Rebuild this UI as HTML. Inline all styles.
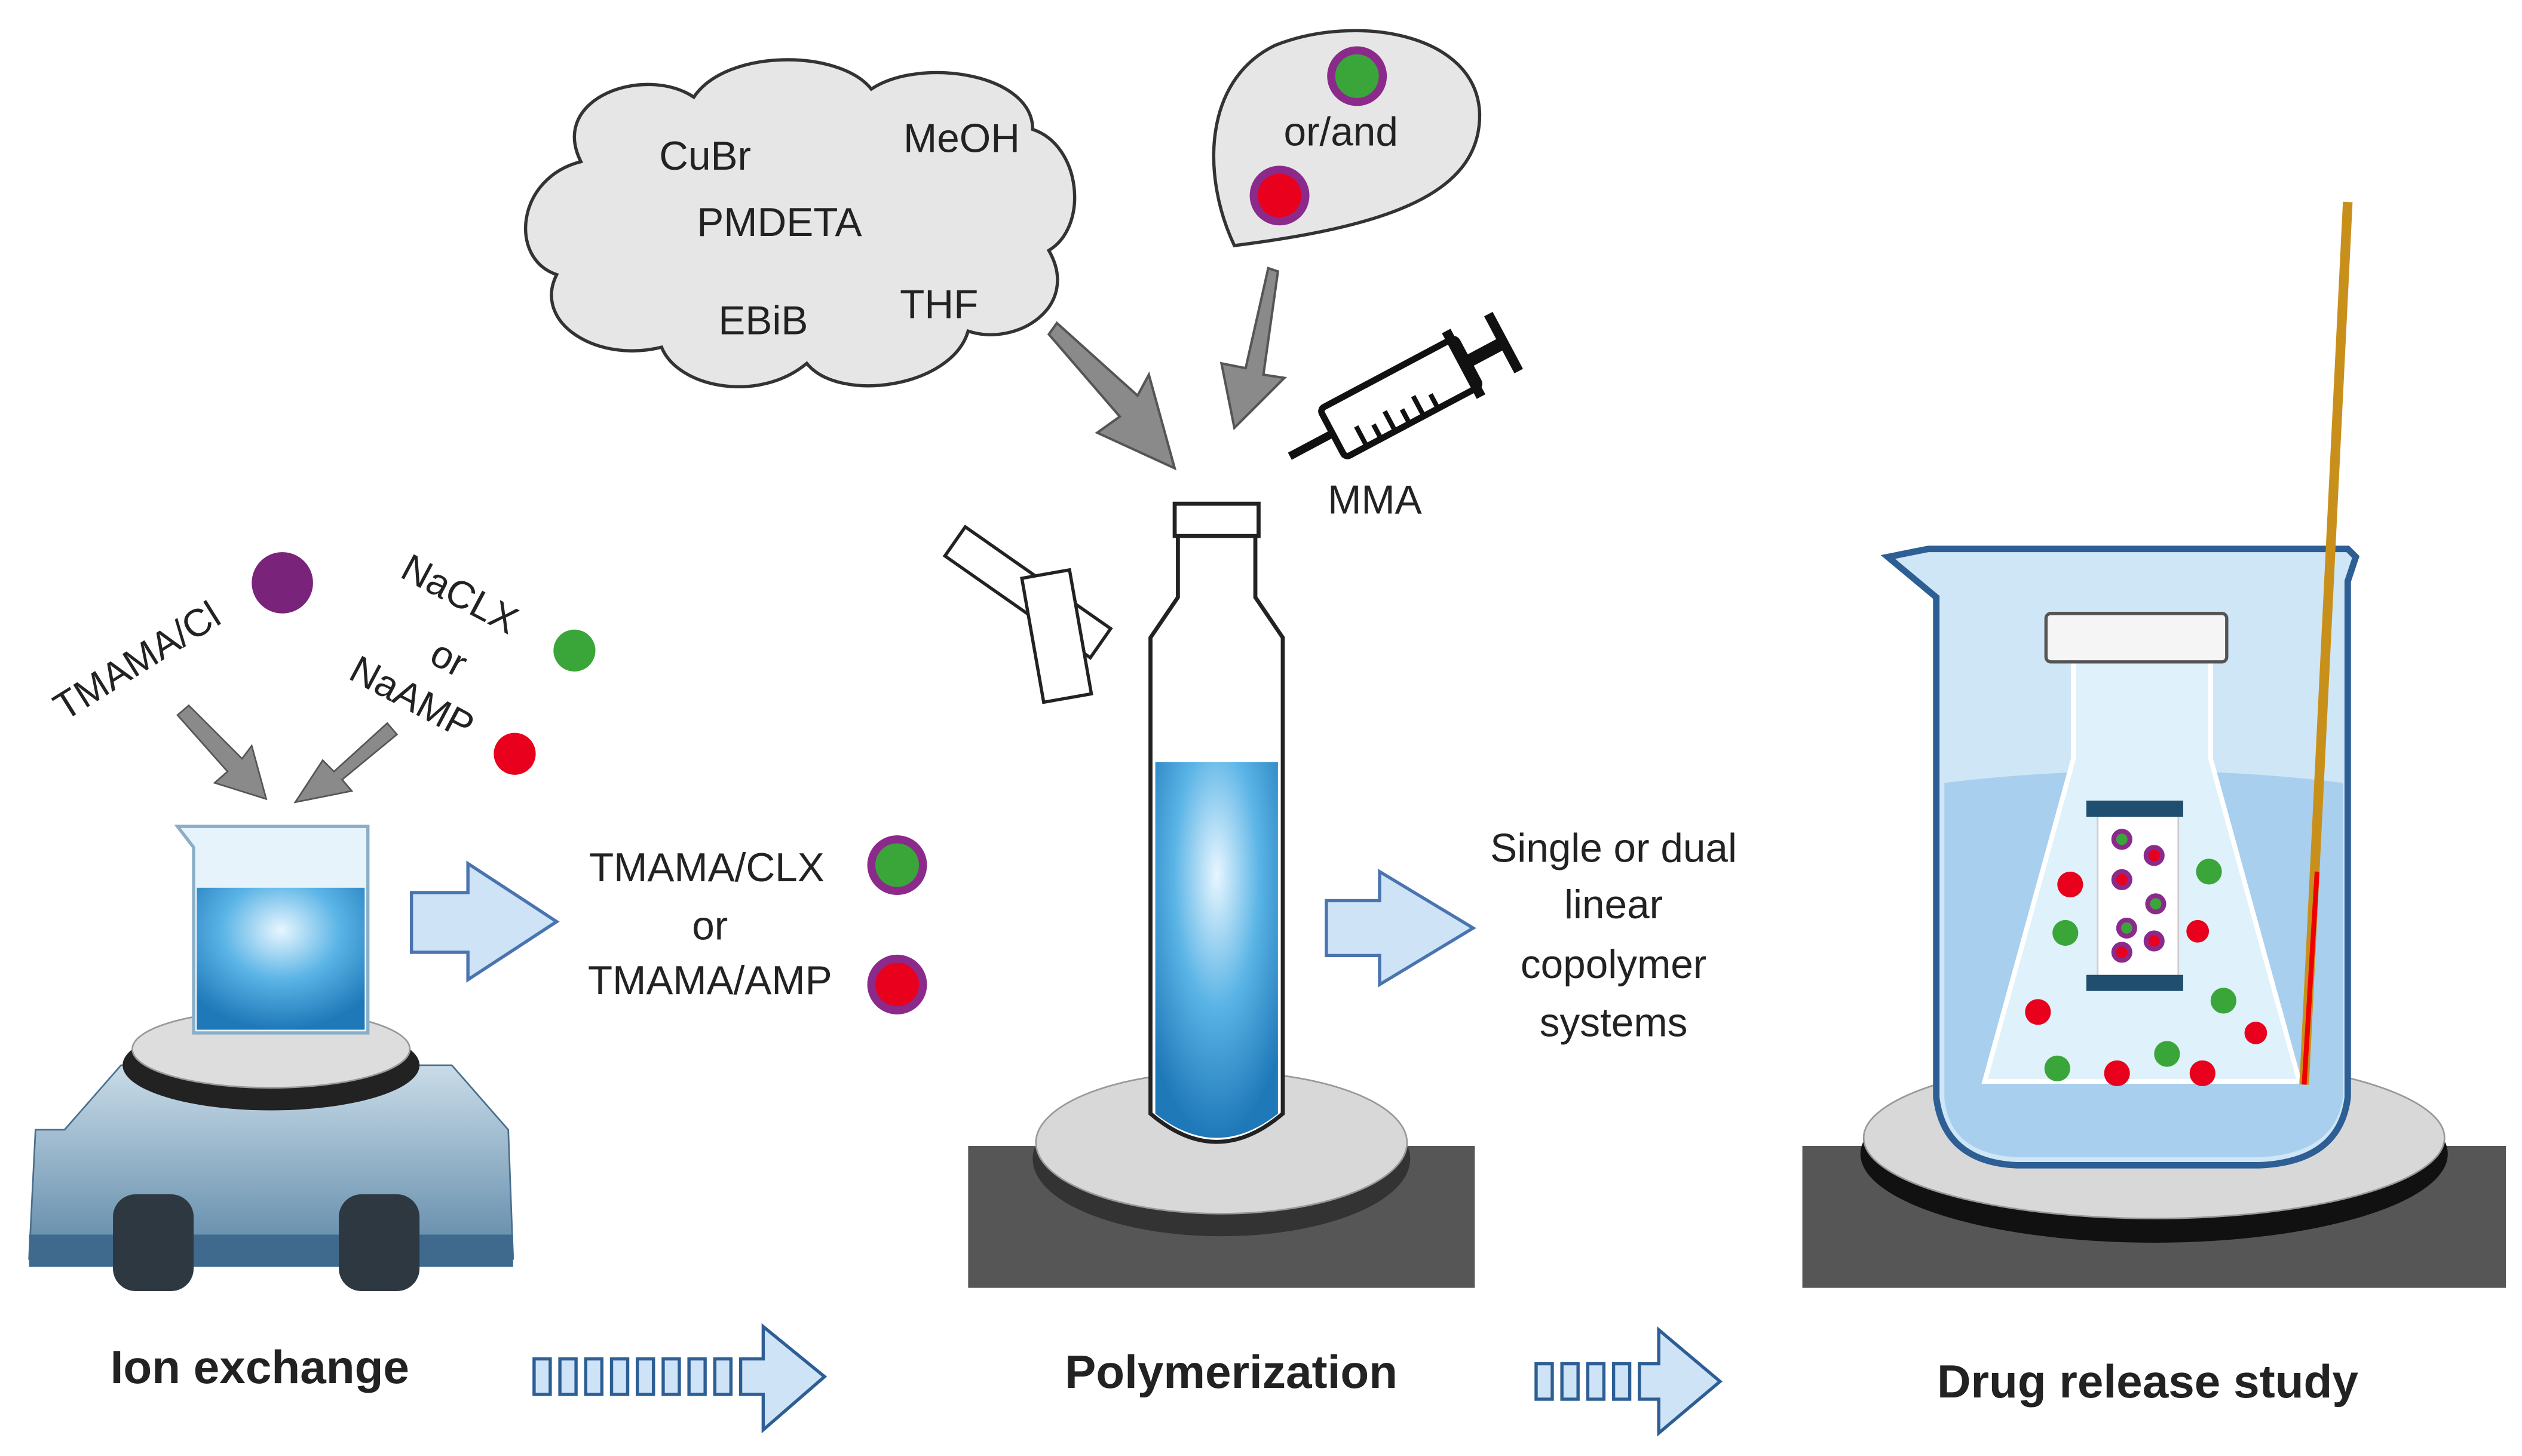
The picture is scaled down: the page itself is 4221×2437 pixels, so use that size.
<!DOCTYPE html>
<html><head><meta charset="utf-8"><style>
html,body{margin:0;padding:0;background:#fff;}
svg{display:block;}
text{font-family:"Liberation Sans",sans-serif;fill:#222;}
</style></head><body>
<svg width="4221" height="2437" viewBox="0 0 1563 902" xmlns="http://www.w3.org/2000/svg">
<defs>
<radialGradient id="wat" cx="50%" cy="30%" r="70%"><stop offset="0" stop-color="#e8f6ff"/><stop offset="0.5" stop-color="#5ab4e6"/><stop offset="1" stop-color="#1f78b8"/></radialGradient>
<linearGradient id="stir" x1="0" y1="0" x2="0" y2="1"><stop offset="0" stop-color="#c9dce8"/><stop offset="1" stop-color="#5e88a8"/></linearGradient>
<linearGradient id="bk" x1="0" y1="0" x2="0" y2="1"><stop offset="0" stop-color="#d7ebf7"/><stop offset="1" stop-color="#8cbde0"/></linearGradient>
</defs>
<!-- cloud -->
<path d="M360,100 C340,60 400,40 430,60 C450,30 520,30 540,55 C570,35 640,45 640,80 C670,90 675,140 650,155 C670,190 630,215 600,205 C590,240 520,250 500,225 C470,250 420,240 410,215 C370,225 330,200 345,170 C315,160 320,110 360,100 Z" fill="#e6e6e6" stroke="#333" stroke-width="2"/>
<g font-size="25" text-anchor="middle">
<text x="437" y="105">CuBr</text><text x="596" y="94">MeOH</text><text x="483" y="146">PMDETA</text><text x="473" y="207">EBiB</text><text x="582" y="197">THF</text>
</g>
<!-- teardrop -->
<path d="M765,152 C745,110 745,50 790,28 C840,8 915,20 917,70 C918,120 860,140 765,152 Z" fill="#e6e6e6" stroke="#333" stroke-width="2"/>
<text x="831" y="90" font-size="25" text-anchor="middle">or/and</text>
<circle cx="841" cy="47" r="16" fill="#3aa63a" stroke="#8b2a8b" stroke-width="5"/>
<circle cx="793" cy="121" r="16" fill="#e8001c" stroke="#8b2a8b" stroke-width="5"/>
<!-- gray arrows -->
<path d="M655,200 L705,245 L712,232 L728,290 L680,268 L694,258 L650,207Z" fill="#8a8a8a" stroke="#555" stroke-width="1.5"/>
<path d="M792,168 L783,232 L796,234 L765,265 L757,225 L772,228 L786,166Z" fill="#8a8a8a" stroke="#555" stroke-width="1.5"/>
<!-- syringe -->
<g transform="rotate(-28 870 245)" stroke="#111" fill="none" stroke-width="4">
<rect x="820" y="228" width="95" height="34" rx="3" fill="#fff"/>
<line x1="790" y1="245" x2="820" y2="245" stroke-width="5"/>
<line x1="915" y1="245" x2="940" y2="245" stroke-width="8"/>
<line x1="940" y1="225" x2="940" y2="265" stroke-width="6"/>
<line x1="912" y1="222" x2="912" y2="268" stroke-width="6"/>
<path d="M835,262 v-14 M845,262 v-10 M855,262 v-14 M865,262 v-10 M875,262 v-14 M885,262 v-10" stroke-width="3"/>
</g>
<text x="852" y="318" font-size="25" text-anchor="middle">MMA</text>
<!-- left labels -->
<text transform="translate(40,447) rotate(-32)" font-size="24">TMAMA/Cl</text>
<circle cx="175" cy="361" r="19" fill="#7a237a"/>
<text transform="translate(247,357) rotate(28)" font-size="24">NaCLX</text>
<text transform="translate(265,410) rotate(28)" font-size="24">or</text>
<text transform="translate(215,420) rotate(28)" font-size="24">NaAMP</text>
<circle cx="356" cy="403" r="13" fill="#3aa63a"/>
<circle cx="319" cy="467" r="13" fill="#e8001c"/>
<path d="M117,437 L150,470 L156,462 L165,495 L133,485 L141,478 L110,443Z" fill="#8a8a8a" stroke="#555"/>
<path d="M240,448 L207,478 L200,471 L183,497 L218,490 L212,483 L246,455Z" fill="#8a8a8a" stroke="#555"/>
<!-- stirrer -->
<path d="M40,700 L75,660 L280,660 L315,700 L318,780 L18,780 L22,700Z" fill="url(#stir)" stroke="#4a6e8c"/>
<rect x="18" y="765" width="300" height="20" fill="#3f6a8e"/>
<ellipse cx="168" cy="660" rx="92" ry="28" fill="#222"/>
<ellipse cx="168" cy="650" rx="86" ry="24" fill="#ddd" stroke="#999"/>
<rect x="70" y="740" width="50" height="60" rx="14" fill="#2e3840"/>
<rect x="210" y="740" width="50" height="60" rx="14" fill="#2e3840"/>
<!-- small beaker -->
<path d="M110,512 L228,512 L228,640 L120,640 L120,525Z" fill="#e6f3fb" stroke="#8aaec8" stroke-width="2"/>
<rect x="122" y="550" width="104" height="88" fill="url(#wat)"/>
<!-- arrow 1 -->
<path d="M255,553 L290,553 L290,535 L345,571 L290,607 L290,590 L255,590Z" fill="#cfe3f7" stroke="#4a74b0" stroke-width="2"/>
<g font-size="25" text-anchor="middle"><text x="438" y="546">TMAMA/CLX</text><text x="440" y="582">or</text><text x="440" y="616">TMAMA/AMP</text></g>
<circle cx="556" cy="536" r="16" fill="#3aa63a" stroke="#8b2a8b" stroke-width="5"/>
<circle cx="556" cy="610" r="16" fill="#e8001c" stroke="#8b2a8b" stroke-width="5"/>
<!-- polymerization -->
<rect x="600" y="710" width="314" height="88" fill="#565656"/>
<ellipse cx="757" cy="718" rx="117" ry="48" fill="#333"/>
<ellipse cx="757" cy="708" rx="115" ry="44" fill="#d8d8d8" stroke="#999"/>
<g transform="rotate(35 640 380)"><rect x="575" y="360" width="110" height="22" fill="#fff" stroke="#222" stroke-width="2"/></g>
<rect x="640" y="355" width="30" height="78" fill="#fff" stroke="#222" stroke-width="2" transform="rotate(-10 655 395)"/>
<path d="M730,330 L778,330 L778,370 L795,395 L795,690 Q754,725 713,690 L713,395 L730,370Z" fill="#fff" stroke="#222" stroke-width="2.5"/>
<rect x="728" y="312" width="52" height="20" fill="#fff" stroke="#222" stroke-width="2.5"/>
<path d="M716,472 L792,472 L792,690 Q754,720 716,690Z" fill="url(#wat)"/>
<!-- arrow 2 -->
<path d="M822,558 L855,558 L855,540 L913,575 L855,610 L855,592 L822,592Z" fill="#cfe3f7" stroke="#4a74b0" stroke-width="2"/>
<g font-size="25" text-anchor="middle"><text x="1000" y="534">Single or dual</text><text x="1000" y="569">linear</text><text x="1000" y="606">copolymer</text><text x="1000" y="642">systems</text></g>
<!-- drug release -->
<rect x="1117" y="710" width="436" height="88" fill="#565656"/>
<ellipse cx="1335" cy="715" rx="182" ry="55" fill="#111"/>
<ellipse cx="1335" cy="705" rx="180" ry="50" fill="#d8d8d8" stroke="#999"/>
<path d="M1170,345 L1195,340 L1200,340 L1455,340 L1460,345 L1455,360 L1455,680 Q1450,720 1400,722 L1250,722 Q1205,720 1200,680 L1200,370Z" fill="#cfe6f6" stroke="#2d5e94" stroke-width="4"/>
<path d="M1205,485 Q1330,470 1452,485 L1452,680 Q1447,715 1400,717 L1250,717 Q1208,715 1205,680Z" fill="#a9cfee"/>
<path d="M1285,405 L1370,405 L1370,470 L1425,670 L1230,670 L1285,470Z" fill="#dff1fa" stroke="#fff" stroke-width="3"/>
<rect x="1268" y="380" width="112" height="30" rx="3" fill="#f5f5f5" stroke="#555" stroke-width="2"/>
<rect x="1300" y="500" width="50" height="110" fill="#fff" stroke="#ccc"/>
<rect x="1293" y="496" width="60" height="10" fill="#1f4e6e"/><rect x="1293" y="604" width="60" height="10" fill="#1f4e6e"/>
<g stroke="#8b2a8b" stroke-width="3"><circle cx="1315" cy="520" r="5" fill="#3aa63a"/><circle cx="1335" cy="530" r="5" fill="#e8001c"/><circle cx="1315" cy="545" r="5" fill="#e8001c"/><circle cx="1336" cy="560" r="5" fill="#3aa63a"/><circle cx="1318" cy="575" r="5" fill="#3aa63a"/><circle cx="1335" cy="583" r="5" fill="#e8001c"/><circle cx="1315" cy="590" r="5" fill="#e8001c"/></g>
<g fill="#e8001c"><circle cx="1283" cy="548" r="8"/><circle cx="1362" cy="577" r="7"/><circle cx="1263" cy="627" r="8"/><circle cx="1398" cy="640" r="7"/><circle cx="1312" cy="665" r="8"/><circle cx="1365" cy="665" r="8"/></g>
<g fill="#3aa63a"><circle cx="1369" cy="540" r="8"/><circle cx="1280" cy="578" r="8"/><circle cx="1378" cy="620" r="8"/><circle cx="1343" cy="653" r="8"/><circle cx="1275" cy="662" r="8"/></g>
<line x1="1455" y1="125" x2="1428" y2="672" stroke="#c8901a" stroke-width="6"/>
<line x1="1436" y1="540" x2="1428" y2="672" stroke="#e00" stroke-width="3"/>
<!-- bottom labels -->
<g font-size="29" font-weight="bold" text-anchor="middle"><text x="161" y="857">Ion exchange</text><text x="763" y="860">Polymerization</text><text x="1331" y="866">Drug release study</text></g>
<g fill="#cfe3f7" stroke="#2d5e94" stroke-width="2">
<rect x="331" y="842" width="10" height="22"/><rect x="347" y="842" width="10" height="22"/><rect x="363" y="842" width="10" height="22"/><rect x="379" y="842" width="10" height="22"/><rect x="395" y="842" width="10" height="22"/><rect x="411" y="842" width="10" height="22"/><rect x="427" y="842" width="10" height="22"/><rect x="443" y="842" width="10" height="22"/>
<path d="M459,842 L473,842 L473,822 L511,853 L473,886 L473,864 L459,864Z"/>
<rect x="952" y="845" width="10" height="22"/><rect x="968" y="845" width="10" height="22"/><rect x="984" y="845" width="10" height="22"/><rect x="1000" y="845" width="10" height="22"/>
<path d="M1016,845 L1028,845 L1028,824 L1066,856 L1028,888 L1028,867 L1016,867Z"/>
</g>
</svg>
</body></html>
